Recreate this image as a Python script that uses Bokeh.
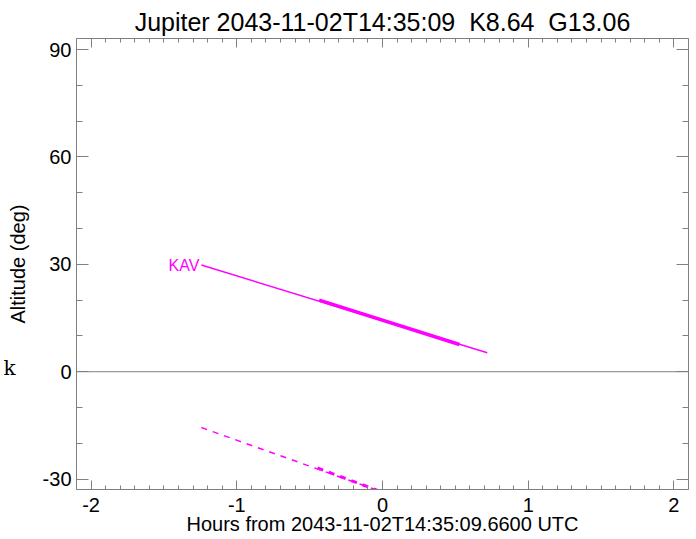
import json
import numpy as np
from bokeh.plotting import figure
from bokeh.models import LinearAxis, FixedTicker, Span, Label, Range1d, CustomJSTickFormatter
from bokeh.embed import file_html
from bokeh.resources import INLINE

# ---- chart content ----
title_text = "Jupiter 2043-11-02T14:35:09 \u00a0K8.64 \u00a0G13.06"
x_label = "Hours from 2043-11-02T14:35:09.6600 UTC"
y_label = "Altitude (deg)"
x_ticks = [-2, -1, 0, 1, 2]
y_ticks = [-30, 0, 30, 60, 90]
x_limits = [-2.1, 2.1]
y_limits = [-32.9, 93.1]

station = "KAV"
# solid altitude track (hours, deg)
track_hours = [-1.243, 0.719]
track_alt = [29.8, 5.3]
# thick part of the solid track
window_hours = [-0.435, 0.528]
window_alt = [20.0, 7.6]
# dashed track (runs off the bottom of the plot)
dash_hours = [-1.243, -0.03]
dash_alt = [-15.6, -33.2]
# thick part of the dashed track
dash_window_hours = [-0.446, -0.03]
dash_window_alt = [-26.9, -33.2]
side_mark = "k"

# ---- styling ----
MAG = "#ff00ff"
AX = "#808080"
FONT = "Liberation Sans"

p = figure(width=696, height=539,
           x_range=Range1d(*x_limits), y_range=Range1d(*y_limits),
           output_backend="svg", toolbar_location=None,
           min_border_left=76, min_border_right=8,
           min_border_top=38, min_border_bottom=50,
           title=title_text)
p.grid.visible = False
p.outline_line_color = None
p.background_fill_color = "white"
p.border_fill_color = "white"

p.title.text_font = FONT
p.title.text_font_size = "25px"
p.title.text_font_style = "normal"
p.title.text_color = "black"
p.title.align = "center"
p.title.standoff = 5
p.title.offset = 0

x_minor = list(np.round(np.arange(-21, 22) / 10.0, 1))
y_minor = list(np.arange(-30, 91, 10))

plain = CustomJSTickFormatter(code="return tick.toFixed(0)")
blank = CustomJSTickFormatter(code="return ''")

def style(ax, ticks, minor, tick_len):
    ax.ticker = FixedTicker(ticks=ticks, minor_ticks=minor)
    ax.axis_line_color = AX
    ax.major_tick_line_color = AX
    ax.minor_tick_line_color = AX
    ax.major_tick_in = tick_len
    ax.major_tick_out = 0
    ax.minor_tick_in = tick_len // 2
    ax.minor_tick_out = 0
    ax.major_label_text_font = FONT
    ax.major_label_text_font_size = "20px"
    ax.major_label_text_color = "black"
    ax.axis_label_text_font = FONT
    ax.axis_label_text_font_size = "20px"
    ax.axis_label_text_font_style = "normal"
    ax.axis_label_text_color = "black"

xb = p.xaxis[0]
style(xb, x_ticks, x_minor, 9)
xb.formatter = plain
xb.axis_label = x_label
xb.major_label_standoff = 8
xb.axis_label_standoff = -2

yl = p.yaxis[0]
style(yl, y_ticks, y_minor, 12)
yl.formatter = plain
yl.axis_label = y_label
yl.major_label_standoff = 5
yl.axis_label_standoff = 11

xt = LinearAxis()
style(xt, x_ticks, x_minor, 9)
xt.formatter = blank
xt.major_label_standoff = 0
xt.major_label_text_font_size = "0px"
p.add_layout(xt, "above")

yr = LinearAxis()
style(yr, y_ticks, y_minor, 12)
yr.formatter = blank
yr.major_label_standoff = 0
yr.major_label_text_font_size = "0px"
p.add_layout(yr, "right")

# outer left axis that only carries the small serif mark beside the zero line
mark_axis = LinearAxis(ticker=FixedTicker(ticks=[1], minor_ticks=[]),
                       formatter=CustomJSTickFormatter(code="return " + json.dumps(side_mark)))
mark_axis.axis_line_color = None
mark_axis.major_tick_line_color = None
mark_axis.minor_tick_line_color = None
mark_axis.major_tick_in = 0
mark_axis.major_tick_out = 0
mark_axis.minor_tick_in = 0
mark_axis.minor_tick_out = 0
mark_axis.major_label_standoff = -12
mark_axis.major_label_text_font = "DejaVu Serif"
mark_axis.major_label_text_font_size = "20px"
mark_axis.major_label_text_color = "black"
p.add_layout(mark_axis, "left")

p.add_layout(Span(location=0, dimension="width", line_color=AX, line_width=1))

p.line(track_hours, track_alt, line_color=MAG, line_width=1.5)
p.line(window_hours, window_alt, line_color=MAG, line_width=3.5)
p.line(dash_hours, dash_alt, line_color=MAG, line_width=1.5, line_dash="6 6")
p.line(dash_window_hours, dash_window_alt, line_color=MAG, line_width=3, line_dash="6 6")

p.add_layout(Label(x=track_hours[0], y=track_alt[0], text=station,
                   x_offset=-2, text_align="right", text_baseline="alphabetic",
                   text_color=MAG, text_font=FONT, text_font_size="16px"))

open("out.html", "w").write(file_html(p, INLINE))
